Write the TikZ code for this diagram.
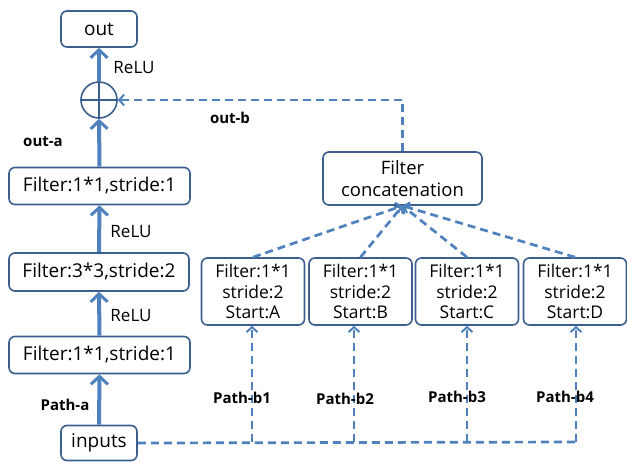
\documentclass[tikz,border=0pt]{standalone}
\usepackage{fontspec}
\setmainfont{Open Sans}
\usetikzlibrary{arrows.meta,calc}
\definecolor{lineblue}{HTML}{4F81BD}
\definecolor{boxblue}{HTML}{3A5F8F}
\begin{document}
\begin{tikzpicture}[x=1pt,y=-1pt,
  box/.style={draw=boxblue,line width=1.6pt,rounded corners=6pt,fill=white,inner sep=0pt,align=center,font=\fontsize{19}{21}\selectfont},
  solidarr/.style={draw=lineblue,line width=4pt,-{Straight Barb[length=8pt,width=17pt,line width=3pt]}},
  dasharr/.style={draw=lineblue,line width=2.7pt,dash pattern=on 8pt off 5pt,-{Straight Barb[length=5pt,width=11pt,line width=2pt]}},
  dashline/.style={draw=lineblue,line width=2.7pt,dash pattern=on 8pt off 5pt},
  lbl/.style={font=\fontsize{17}{19}\selectfont},
  blbl/.style={font=\bfseries\fontsize{15}{17}\selectfont}]
\useasboundingbox (0,0) rectangle (627,461);
% left column
\node[box,minimum width=76pt,minimum height=36pt] (out) at (99,29) {out};
\node[draw=boxblue,line width=1.6pt,circle,minimum size=36pt,inner sep=0pt] (sum) at (99,100) {};
\draw[boxblue,line width=1.6pt] (sum.north) -- (sum.south) (sum.west) -- (sum.east);
\node[box,minimum width=181pt,minimum height=37pt] (f1t) at (99.5,186) {Filter:1*1,stride:1};
\node[box,minimum width=180pt,minimum height=38pt] (f3) at (99,272) {Filter:3*3,stride:2};
\node[box,minimum width=181pt,minimum height=37pt] (f1b) at (99.5,355) {Filter:1*1,stride:1};
\node[box,minimum width=76pt,minimum height=35pt] (in) at (99,443) {inputs};
% right part
\node[box,minimum width=159pt,minimum height=53pt,font=\fontsize{18.5}{22}\selectfont] (cat) at (402.5,178.5) {Filter\\concatenation};
\foreach \n/\x/\l in {A/253/A,B/360.5/B,C/467/C,D/575/D}{
  \node[box,minimum width=103pt,minimum height=67pt,font=\fontsize{17.5}{20.5}\selectfont] (\n) at (\x,291.5) {Filter:1*1\\stride:2\\Start:\l};
}
% solid arrows
\draw[solidarr] (in.north) -- (f1b.south);
\draw[solidarr] (f1b.north) -- (f3.south);
\draw[solidarr] (f3.north) -- (f1t.south);
\draw[solidarr] (f1t.north) -- (sum.south);
\draw[solidarr] (sum.north) -- (out.south);
% labels
\node[lbl] (r1) at (134,68) {ReLU};
\node[lbl] (r2) at (131,232) {ReLU};
\node[lbl] (r3) at (131,316) {ReLU};
\node[blbl] (oa) at (43,142) {out-a};
\node[blbl] (ob) at (230,118) {out-b};
\node[blbl] (pa) at (65,405) {Path-a};
% dashed
\coordinate (j1) at (252,442);
\coordinate (j2) at (354,442);
\coordinate (j3) at (467,442);
\coordinate (j4) at (576,442);
\draw[dashline] (in.east) -- (j4);
\draw[dasharr] (j1) -- (j1 |- A.south);
\draw[dasharr] (j2) -- (j2 |- B.south);
\draw[dasharr] (j3) -- (j3 |- C.south);
\draw[dasharr] (j4) -- (j4 |- D.south);
\foreach \n in {A,B,C,D}{
  \draw[dasharr] (\n.north) -- (cat.south);
}
\coordinate (tc) at (cat.north |- sum.east);
\draw[dasharr] (cat.north) -- (tc) -- (sum.east);
\node[blbl] (pb1) at (242,398) {Path-b1};
\node[blbl] (pb2) at (345,399) {Path-b2};
\node[blbl] (pb3) at (457,397) {Path-b3};
\node[blbl] (pb4) at (565,397) {Path-b4};
\end{tikzpicture}
\end{document}
